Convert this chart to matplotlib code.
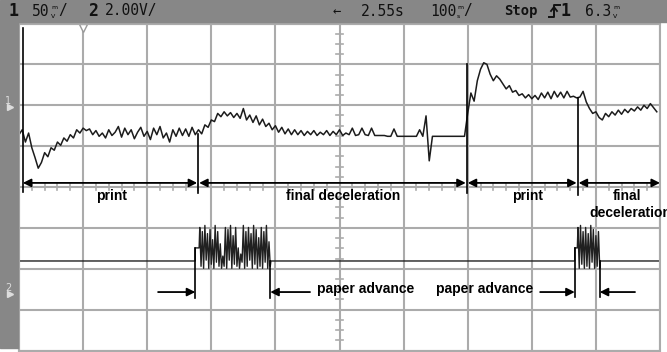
import matplotlib.pyplot as plt
import numpy as np
from matplotlib.patches import Rectangle
from matplotlib.lines import Line2D

W, H = 667, 352

# channel 1 trace (mV), one sample every 5 ms from 0 ms
ch1_step_ms = 5
ch1_mv = [
    -36, -30, -45, -34, -52, -64, -77, -70, -58, -63,
    -52, -55, -45, -49, -40, -44, -36, -40, -30, -34,
    -28, -31, -29, -36, -31, -38, -34, -40, -30, -37,
    -33, -26, -39, -28, -36, -30, -41, -33, -27, -38,
    -32, -42, -28, -36, -26, -40, -34, -45, -30, -38,
    -28, -37, -29, -38, -27, -36, -30, -35, -24, -27,
    -18, -20, -10, -14, -8, -13, -9, -15, -10, -16,
    -4, -18, -12, -21, -13, -24, -17, -26, -22, -30,
    -25, -33, -27, -35, -29, -36, -30, -36, -31, -37,
    -32, -36, -31, -37, -33, -36, -31, -37, -32, -36,
    -30, -37, -34, -36, -28, -37, -36, -28, -36, -37,
    -28, -37, -37, -37, -37, -38, -38, -29, -38, -38,
    -38, -38, -38, -38, -38, -30, -38, -13, -68, -38,
    -38, -38, -38, -38, -38, -38, -38, -38, -38, -38,
    -10, 15, 5, 30, 44, 52, 50, 38, 30, 36,
    32, 26, 20, 24, 16, 18, 12, 14, 9, 13,
    8, 12, 7, 15, 9, 16, 8, 17, 10, 16,
    9, 17, 10, 11, 9, 10, 17, 4, -4, -10,
    -8, -15, -18, -10, -14, -8, -12, -6, -11, -5,
    -9, -4, -7, -2, -6, 0, -4, 2, -3, -8,
]

# channel 2 trace (V): baseline with two drive bursts
ch2_base_v = 1.56
ch2_step_v = 2.2
burst_step_ms = 2
burst1_edges_ms = (275, 393)
burst1_start_ms = 282
burst1_v = [
    3.2, 1.3, 3.0, 1.2, 3.3, 1.6, 2.9, 1.2, 3.1, 1.4, 2.6, 1.2, 3.3, 1.5,
    3.0, 1.3, 2.4, 1.2, 1.8, 1.3, 3.2, 1.2, 3.1, 1.6, 3.3, 1.2, 2.8, 1.4,
    3.2, 1.3, 2.2, 1.2, 1.9, 1.5, 3.3, 1.2, 3.0, 1.3, 3.2, 1.6, 2.9, 1.2,
    3.3, 1.4, 3.1, 1.2, 2.7, 1.3, 3.2, 1.2, 3.0, 1.5, 3.3, 1.2, 2.5, 1.3,
]
burst2_edges_ms = (867, 907)
burst2_start_ms = 872
burst2_v = [3.2, 1.2, 3.3, 1.4, 3.0, 1.2, 3.2, 1.3, 2.9, 1.2, 3.3, 1.5,
            3.1, 1.2, 2.8, 1.3, 3.0, 1.2]

# scope settings
ch1_mv_per_div = 50
ch1_ground_div = 2.0
ch2_v_per_div = 2
ch2_ground_div = -2.59

# annotations
phases = [(6, 278, 'print'), (281, 697, 'final deceleration'),
          (700, 870, 'print'), (873, 1000, 'final')]
phase_label_x = [145, 505, 794, 948]
ch1_markers = [(6, 3.89, -0.12), (279, 1.3, -0.15), (699, 3.0, -0.15),
               (872, 2.17, -0.2)]
ch2_markers = [(275, -1.49, -2.71), (392, -1.81, -2.71),
               (867, -1.49, -2.69), (906, -1.81, -2.69)]
feed_arrows = [(217, 275), (454, 392), (813, 867), (961, 906)]
feed_labels_x = [541, 727]

GRID = '#ababab'
BAR = '#878787'
MONO = 'DejaVu Sans Mono'

fig = plt.figure(figsize=(W / 100, H / 100), dpi=100)
ax = fig.add_axes([19 / W, 1.5 / H, 641 / W, 327 / H])
ax.set_xlim(0, 1000)
ax.set_ylim(-4, 4)
ax.set_xticks(np.arange(0, 1001, 100))
ax.set_yticks(np.arange(-4, 5, 1))
ax.tick_params(length=0, labelbottom=False, labelleft=False)
ax.grid(True, color=GRID, lw=1.5)
for s in ax.spines.values():
    s.set_color(GRID)
    s.set_linewidth(1.5)

# minor ticks on the centre axes
for t in np.arange(0, 1000, 20):
    ax.plot([t, t], [-0.08, 0.08], color=GRID, lw=1.2)
for v in np.arange(-4, 4, 0.25):
    ax.plot([494, 506], [v, v], color=GRID, lw=1.2)
ax.plot(100, 3.9, marker='v', ms=6, mfc='white', mec='#999999', clip_on=False)

# channel 1
t1 = np.arange(len(ch1_mv)) * ch1_step_ms
y1 = np.array(ch1_mv) / ch1_mv_per_div + ch1_ground_div
ax.plot(t1, y1, color='#1c1c1c', lw=1.1)

# channel 2
b1_t = burst1_start_ms + np.arange(len(burst1_v)) * burst_step_ms
b2_t = burst2_start_ms + np.arange(len(burst2_v)) * burst_step_ms
t2 = np.concatenate([[0, burst1_edges_ms[0], burst1_edges_ms[0], burst1_start_ms - 1],
                     b1_t,
                     [burst1_edges_ms[1], burst2_edges_ms[0], burst2_edges_ms[0],
                      burst2_start_ms - 1],
                     b2_t,
                     [burst2_edges_ms[1], 1000]])
v2 = np.concatenate([[ch2_base_v, ch2_base_v, ch2_step_v, ch2_step_v],
                     burst1_v,
                     [ch2_base_v, ch2_base_v, ch2_step_v, ch2_step_v],
                     burst2_v,
                     [ch2_base_v, ch2_base_v]])
ax.plot(t2, v2 / ch2_v_per_div + ch2_ground_div, color='#202020', lw=1.0)

# phase markers and arrows
for x, ya, yb in ch1_markers + ch2_markers:
    ax.plot([x, x], [ya, yb], color='black', lw=1.2)
arrow_y = 0.1
for a, b, _ in phases:
    ax.annotate('', xy=(b, arrow_y), xytext=(a, arrow_y),
                arrowprops=dict(arrowstyle='<|-|>', color='black', lw=1.3,
                                mutation_scale=12, shrinkA=0, shrinkB=0))
lab = dict(fontsize=10, fontweight='bold', family='Liberation Sans',
           ha='center', va='center', clip_on=False)
for x, (_, _, name) in zip(phase_label_x, phases):
    ax.text(x, -0.22, name, **lab)
# the second line runs off the right edge of the screen, as on the scope
ax.text(phase_label_x[-1] + 6, -0.63, 'deceleration', **lab)

feed_y = -2.57
for a, b in feed_arrows:
    ax.annotate('', xy=(b, feed_y), xytext=(a, feed_y),
                arrowprops=dict(arrowstyle='-|>', color='black', lw=1.3,
                                mutation_scale=12, shrinkA=0, shrinkB=0))
for x in feed_labels_x:
    ax.text(x, -2.49, 'paper advance', **lab)

# screen frame: header bar and left strip
fig.add_artist(Rectangle((0, 1 - 22 / H), 1, 22 / H, transform=fig.transFigure,
                         color=BAR, zorder=3))
fig.add_artist(Rectangle((0, 1 - 348 / H), 18 / W, 326 / H,
                         transform=fig.transFigure, color=BAR, zorder=3))


def ftxt(x, y, s, size=10.5, weight='normal', color='#111111', family=MONO):
    fig.text(x / W, 1 - y / H, s, fontsize=size, fontweight=weight, family=family,
             color=color, va='center', ha='left', zorder=4)


def unit(x, y, top, bottom):
    # scope shows units as two tiny stacked glyphs
    fig.text(x / W, 1 - (y - 4.5) / H, top, fontsize=4.5, va='center', ha='left', zorder=4)
    fig.text(x / W, 1 - (y + 4.5) / H, bottom, fontsize=4.5, va='center', ha='left', zorder=4)


ftxt(9, 11, '1', size=12, weight='bold')
ftxt(32, 11, '50')
unit(51, 12, 'm', 'V')
ftxt(58, 11, '/')
ftxt(88, 11, '2', size=12, weight='bold')
ftxt(105, 11, '2.00V/')
ftxt(333, 11, '←', size=10)
ftxt(361, 11, '2.55s')
ftxt(430, 11, '100')
unit(457, 12, 'm', 's')
ftxt(463, 11, '/')
ftxt(504, 11, 'Stop', size=10, weight='bold')
ftxt(561, 11, '1', size=12, weight='bold')
ftxt(585, 11, '6.3')
unit(613, 12, 'm', 'V')

# trigger edge symbol
sx = [549 / W, 554 / W, 554 / W, 560 / W]
sy = [1 - 17 / H, 1 - 17 / H, 1 - 5 / H, 1 - 5 / H]
fig.add_artist(Line2D(sx, sy, color='#111111', lw=1.4, zorder=4))
fig.add_artist(Line2D([551 / W, 554 / W, 557 / W], [1 - 11 / H, 1 - 7 / H, 1 - 11 / H],
                      color='#111111', lw=1.3, zorder=4))

# channel ground markers
ftxt(5, 101, '1', size=7, color='#dddddd', family='DejaVu Sans')
ftxt(5, 288, '2', size=7, color='#dddddd', family='DejaVu Sans')
fig.add_artist(Line2D([10 / W], [1 - 107 / H], marker='>', ms=5, color='#dddddd',
                      ls='none', zorder=4))
fig.add_artist(Line2D([10 / W], [1 - 294 / H], marker='>', ms=5, color='#dddddd',
                      ls='none', zorder=4))

fig.savefig('out.png', dpi=100)
